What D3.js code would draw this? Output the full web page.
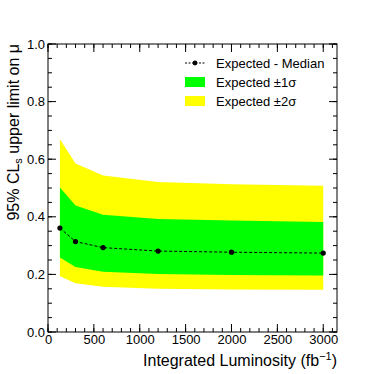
<!DOCTYPE html>
<html>
<head>
<meta charset="utf-8">
<script src="https://cdn.jsdelivr.net/npm/d3@7"></script>
<style>
  body { margin: 0; background: #fff; }
  text { font-family: "Liberation Sans", Arial, sans-serif; fill: #000; }
</style>
</head>
<body>
<svg id="chart" width="374" height="374"></svg>
<script>
// data
const lumi = [130, 300, 600, 1200, 2000, 3000];
const median = [0.361, 0.314, 0.293, 0.281, 0.277, 0.274];
const up1 = [0.502, 0.439, 0.407, 0.392, 0.387, 0.382];
const lo1 = [0.259, 0.226, 0.209, 0.201, 0.198, 0.196];
const up2 = [0.669, 0.585, 0.543, 0.521, 0.513, 0.508];
const lo2 = [0.194, 0.169, 0.157, 0.150, 0.148, 0.147];
const xTicks = [0, 500, 1000, 1500, 2000, 2500, 3000];
const yTicks = [0, 0.2, 0.4, 0.6, 0.8, 1.0];

const margin = { top: 44, right: 37, bottom: 42, left: 48 };
const width = 374 - margin.left - margin.right;
const height = 374 - margin.top - margin.bottom;

const svg = d3.select("#chart");
const g = svg.append("g").attr("transform", `translate(${margin.left},${margin.top})`);

const x = d3.scaleLinear().domain([0, 3150]).range([0, width]);
const y = d3.scaleLinear().domain([0, 1]).range([height, 0]);

const pts = lumi.map((l, i) => ({ l, m: median[i], u1: up1[i], d1: lo1[i], u2: up2[i], d2: lo2[i] }));

const band = (hi, lo) => d3.area().x(d => x(d.l)).y0(d => y(d[lo])).y1(d => y(d[hi]));

g.append("path").datum(pts).attr("d", band("u2", "d2")).attr("fill", "#ffff00");
g.append("path").datum(pts).attr("d", band("u1", "d1")).attr("fill", "#00ff00");

g.append("path").datum(pts)
  .attr("d", d3.line().x(d => x(d.l)).y(d => y(d.m)))
  .attr("fill", "none").attr("stroke", "#000").attr("stroke-width", 1)
  .attr("stroke-dasharray", "3,2");

g.selectAll(".dot").data(pts).join("circle")
  .attr("class", "dot")
  .attr("cx", d => x(d.l)).attr("cy", d => y(d.m)).attr("r", 2.6).attr("fill", "#000");

// frame
g.append("rect").attr("width", width).attr("height", height)
  .attr("fill", "none").attr("stroke", "#000").attr("stroke-width", 1);

// ticks on all four sides, ROOT style (inside)
const xMinor = d3.range(0, 3150, 100);
const yMinor = d3.range(0, 1.0001, 0.05);
function tickLines(vals, scale, len, horizontal) {
  vals.forEach(v => {
    const p = scale(v);
    if (horizontal) {
      g.append("line").attr("x1", p).attr("x2", p).attr("y1", height).attr("y2", height - len).attr("stroke", "#000");
      g.append("line").attr("x1", p).attr("x2", p).attr("y1", 0).attr("y2", len).attr("stroke", "#000");
    } else {
      g.append("line").attr("y1", p).attr("y2", p).attr("x1", 0).attr("x2", len).attr("stroke", "#000");
      g.append("line").attr("y1", p).attr("y2", p).attr("x1", width).attr("x2", width - len).attr("stroke", "#000");
    }
  });
}
tickLines(xMinor, x, 4, true);
tickLines(xTicks, x, 8, true);
tickLines(yMinor, y, 4, false);
tickLines(yTicks, y, 8, false);

// tick labels via axis generators, lines hidden
const xAxis = g.append("g").attr("transform", `translate(0,${height})`)
  .call(d3.axisBottom(x).tickValues(xTicks).tickFormat(d3.format("d")).tickSize(0).tickPadding(3));
const yAxis = g.append("g")
  .call(d3.axisLeft(y).tickValues(yTicks).tickFormat(d3.format(".1f")).tickSize(0).tickPadding(3));
[xAxis, yAxis].forEach(a => {
  a.select(".domain").remove();
  a.selectAll("text").style("font-family", "Liberation Sans, Arial, sans-serif").style("font-size", "13px").attr("fill", "#000");
});

// axis titles
const xt = svg.append("text")
  .attr("x", margin.left + width).attr("y", 366)
  .attr("text-anchor", "end").style("font-size", "16px");
xt.append("tspan").text("Integrated Luminosity (fb");
xt.append("tspan").attr("dy", -6).style("font-size", "11px").text("\u22121");
xt.append("tspan").attr("dy", 6).text(")");

const yt = svg.append("text")
  .attr("transform", `translate(19,${margin.top}) rotate(-90)`)
  .attr("text-anchor", "end").style("font-size", "16px");
yt.append("tspan").text("95% CL");
yt.append("tspan").attr("dy", 3).style("font-size", "11px").text("s");
yt.append("tspan").attr("dy", -3).text(" upper limit on \u03bc");

// legend
const legend = [
  { label: "Expected - Median", type: "line" },
  { label: "Expected \u00b11\u03c3", type: "box", color: "#00ff00" },
  { label: "Expected \u00b12\u03c3", type: "box", color: "#ffff00" }
];
const lg = svg.append("g").attr("transform", "translate(185,63)");
legend.forEach((d, i) => {
  const row = lg.append("g").attr("transform", `translate(0,${i * 19})`);
  if (d.type === "line") {
    row.append("line").attr("x1", 0).attr("x2", 20).attr("y1", 0).attr("y2", 0)
      .attr("stroke", "#000").attr("stroke-dasharray", "2,1.5");
    row.append("circle").attr("cx", 10).attr("cy", 0).attr("r", 2.4).attr("fill", "#000");
  } else {
    row.append("rect").attr("x", 0).attr("y", -5).attr("width", 20).attr("height", 10).attr("fill", d.color);
  }
  row.append("text").attr("x", 31).attr("y", 0).attr("dy", "0.35em")
    .style("font-size", "13px").text(d.label);
});
</script>
</body>
</html>
